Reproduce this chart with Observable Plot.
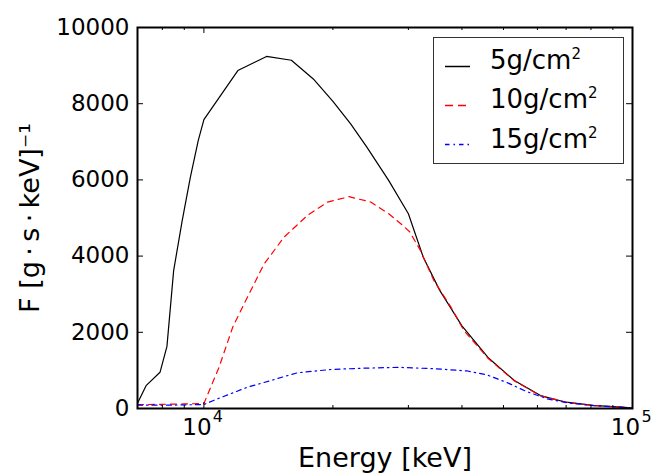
<!DOCTYPE html>
<html>
<head>
<meta charset="utf-8">
<script src="https://cdn.jsdelivr.net/npm/d3@7"></script>
<script src="https://cdn.jsdelivr.net/npm/@observablehq/plot@0.6"></script>
<style>
  body { margin: 0; background: #fff; }
  #wrap { position: relative; width: 651px; height: 474px; background: #fff; }
  #wrap > svg { position: absolute; left: 0; top: 0; }
  #legend { pointer-events: none; }
</style>
</head>
<body>
<div id="wrap"></div>
<script>
// ---- data ----
const energy5 = [7000, 7330, 7900, 8200, 8500, 8900, 9300, 9700, 10000, 12000, 14000, 16000, 18000, 20000, 22000, 24000, 27000, 30000, 32500, 35500, 40000, 46000, 53000, 61000, 70000, 81000, 100000];
const flux5   = [140, 600, 950, 1630, 3620, 4930, 6070, 7030, 7580, 8870, 9240, 9140, 8650, 8060, 7470, 6860, 5980, 5110, 3970, 3100, 2170, 1340, 735, 340, 165, 80, 18];

const energy10 = [7000, 8000, 9000, 10000, 10850, 11670, 12530, 13830, 15390, 17450, 19420, 21800, 24500, 27000, 28800, 30200, 32000, 34400, 37700, 40400, 46000, 53000, 61000, 70000, 81000, 100000];
const flux10   = [100, 110, 120, 130, 1085, 2130, 2840, 3800, 4500, 5070, 5415, 5560, 5420, 5110, 4850, 4640, 4150, 3360, 2660, 2050, 1320, 725, 335, 162, 78, 18];

const energy15 = [7000, 8000, 9000, 10000, 10760, 12640, 14330, 16520, 19770, 23650, 28500, 34400, 41200, 45800, 51000, 56750, 63200, 70500, 81000, 100000];
const flux15   = [90, 85, 95, 105, 254, 560, 735, 937, 1024, 1058, 1080, 1045, 985, 880, 680, 440, 255, 150, 75, 18];

const seriesLabels = ["5g/cm", "10g/cm", "15g/cm"];
const yTicks = [0, 2000, 4000, 6000, 8000, 10000];
const xMajor = [1e4, 1e5];
const xMinor = [8000, 9000, 20000, 30000, 40000, 50000, 60000, 70000, 80000, 90000];
const xLabel = "Energy [keV]";
const yLabel = "F [g\u2009·\u2009s\u2009·\u2009keV]⁻¹";

// ---- layout ----
const W = 651, H = 474;
const mL = 137, mR = 19, mT = 27, mB = 66;
const fw = W - mL - mR, fh = H - mT - mB;

const toRows = (xs, ys) => xs.map((x, i) => ({x, y: ys[i]}));
const d5 = toRows(energy5, flux5);
const d10 = toRows(energy10, flux10);
const d15 = toRows(energy15, flux15);

const majorLen = 6, minorLen = 3;

const chart = Plot.plot({
  width: W, height: H,
  marginLeft: mL, marginRight: mR, marginTop: mT, marginBottom: mB,
  style: {fontFamily: "DejaVu Sans", background: "white", color: "black", overflow: "visible"},
  x: {type: "log", domain: [7000, 100000]},
  y: {domain: [0, 10000]},
  marks: [
    Plot.line(d5, {x: "x", y: "y", stroke: "black", strokeWidth: 1.2}),
    Plot.line(d10, {x: "x", y: "y", stroke: "#ff0000", strokeWidth: 1.2, strokeDasharray: "6,5"}),
    Plot.line(d15, {x: "x", y: "y", stroke: "#0000ff", strokeWidth: 1.2, strokeDasharray: "5,4,1.5,4"}),
    // inward ticks
    Plot.tickY(yTicks, {y: d => d, insetRight: fw - majorLen, stroke: "black", strokeWidth: 1}),
    Plot.tickY(yTicks, {y: d => d, insetLeft: fw - majorLen, stroke: "black", strokeWidth: 1}),
    Plot.tickX(xMajor, {x: d => d, insetTop: fh - majorLen, stroke: "black", strokeWidth: 1}),
    Plot.tickX(xMajor, {x: d => d, insetBottom: fh - majorLen, stroke: "black", strokeWidth: 1}),
    Plot.tickX(xMinor, {x: d => d, insetTop: fh - minorLen, stroke: "black", strokeWidth: 1}),
    Plot.tickX(xMinor, {x: d => d, insetBottom: fh - minorLen, stroke: "black", strokeWidth: 1}),
    // tick labels
    Plot.axisY({ticks: yTicks, tickSize: 0, tickPadding: 8, fontSize: 23, label: null, tickFormat: d => String(d)}),
    Plot.axisX({ticks: xMajor, tickSize: 0, tickPadding: 10, fontSize: 23, label: null, dx: -7, tickFormat: () => "10"}),
    Plot.axisX({ticks: xMajor, tickSize: 0, tickPadding: 2, fontSize: 16, label: null, dx: 14, tickFormat: d => String(Math.round(Math.log10(d)))}),
    // axis titles
    Plot.text([xLabel], {text: d => d, frameAnchor: "bottom", textAnchor: "middle", dy: 50, fontSize: 27, lineAnchor: "middle"}),
    Plot.text([yLabel], {text: d => d, frameAnchor: "left", textAnchor: "middle", dx: -107, rotate: -90, fontSize: 27, lineAnchor: "middle"}),
    Plot.frame({stroke: "black", strokeWidth: 2})
  ]
});

const wrap = document.getElementById("wrap");
wrap.appendChild(chart);

// ---- legend ----
const ns = "http://www.w3.org/2000/svg";
const leg = document.createElementNS(ns, "svg");
leg.setAttribute("id", "legend");
leg.setAttribute("width", W);
leg.setAttribute("height", H);
const mk = (tag, attrs) => { const e = document.createElementNS(ns, tag); for (const k in attrs) e.setAttribute(k, attrs[k]); return e; };
leg.appendChild(mk("rect", {x: 433.5, y: 37.5, width: 190, height: 126, fill: "white", stroke: "#333", "stroke-width": 1}));
const styles = [
  {stroke: "black", dash: null},
  {stroke: "#ff0000", dash: "8,5"},
  {stroke: "#0000ff", dash: "4.5,4,1.5,4"}
];
const lineY = [66.5, 105.5, 144.5];
const baseY = [68.5, 108, 147.5];
seriesLabels.forEach((lab, i) => {
  const ln = mk("line", {x1: 445, x2: 470, y1: lineY[i], y2: lineY[i], stroke: styles[i].stroke, "stroke-width": 1.5});
  if (styles[i].dash) ln.setAttribute("stroke-dasharray", styles[i].dash);
  leg.appendChild(ln);
  const t = mk("text", {x: 490, y: baseY[i], "font-family": "DejaVu Sans", "font-size": 26, fill: "black"});
  t.appendChild(document.createTextNode(lab));
  const sup = mk("tspan", {"font-size": 15, dy: -10});
  sup.appendChild(document.createTextNode("2"));
  t.appendChild(sup);
  leg.appendChild(t);
});
wrap.appendChild(leg);
</script>
</body>
</html>
